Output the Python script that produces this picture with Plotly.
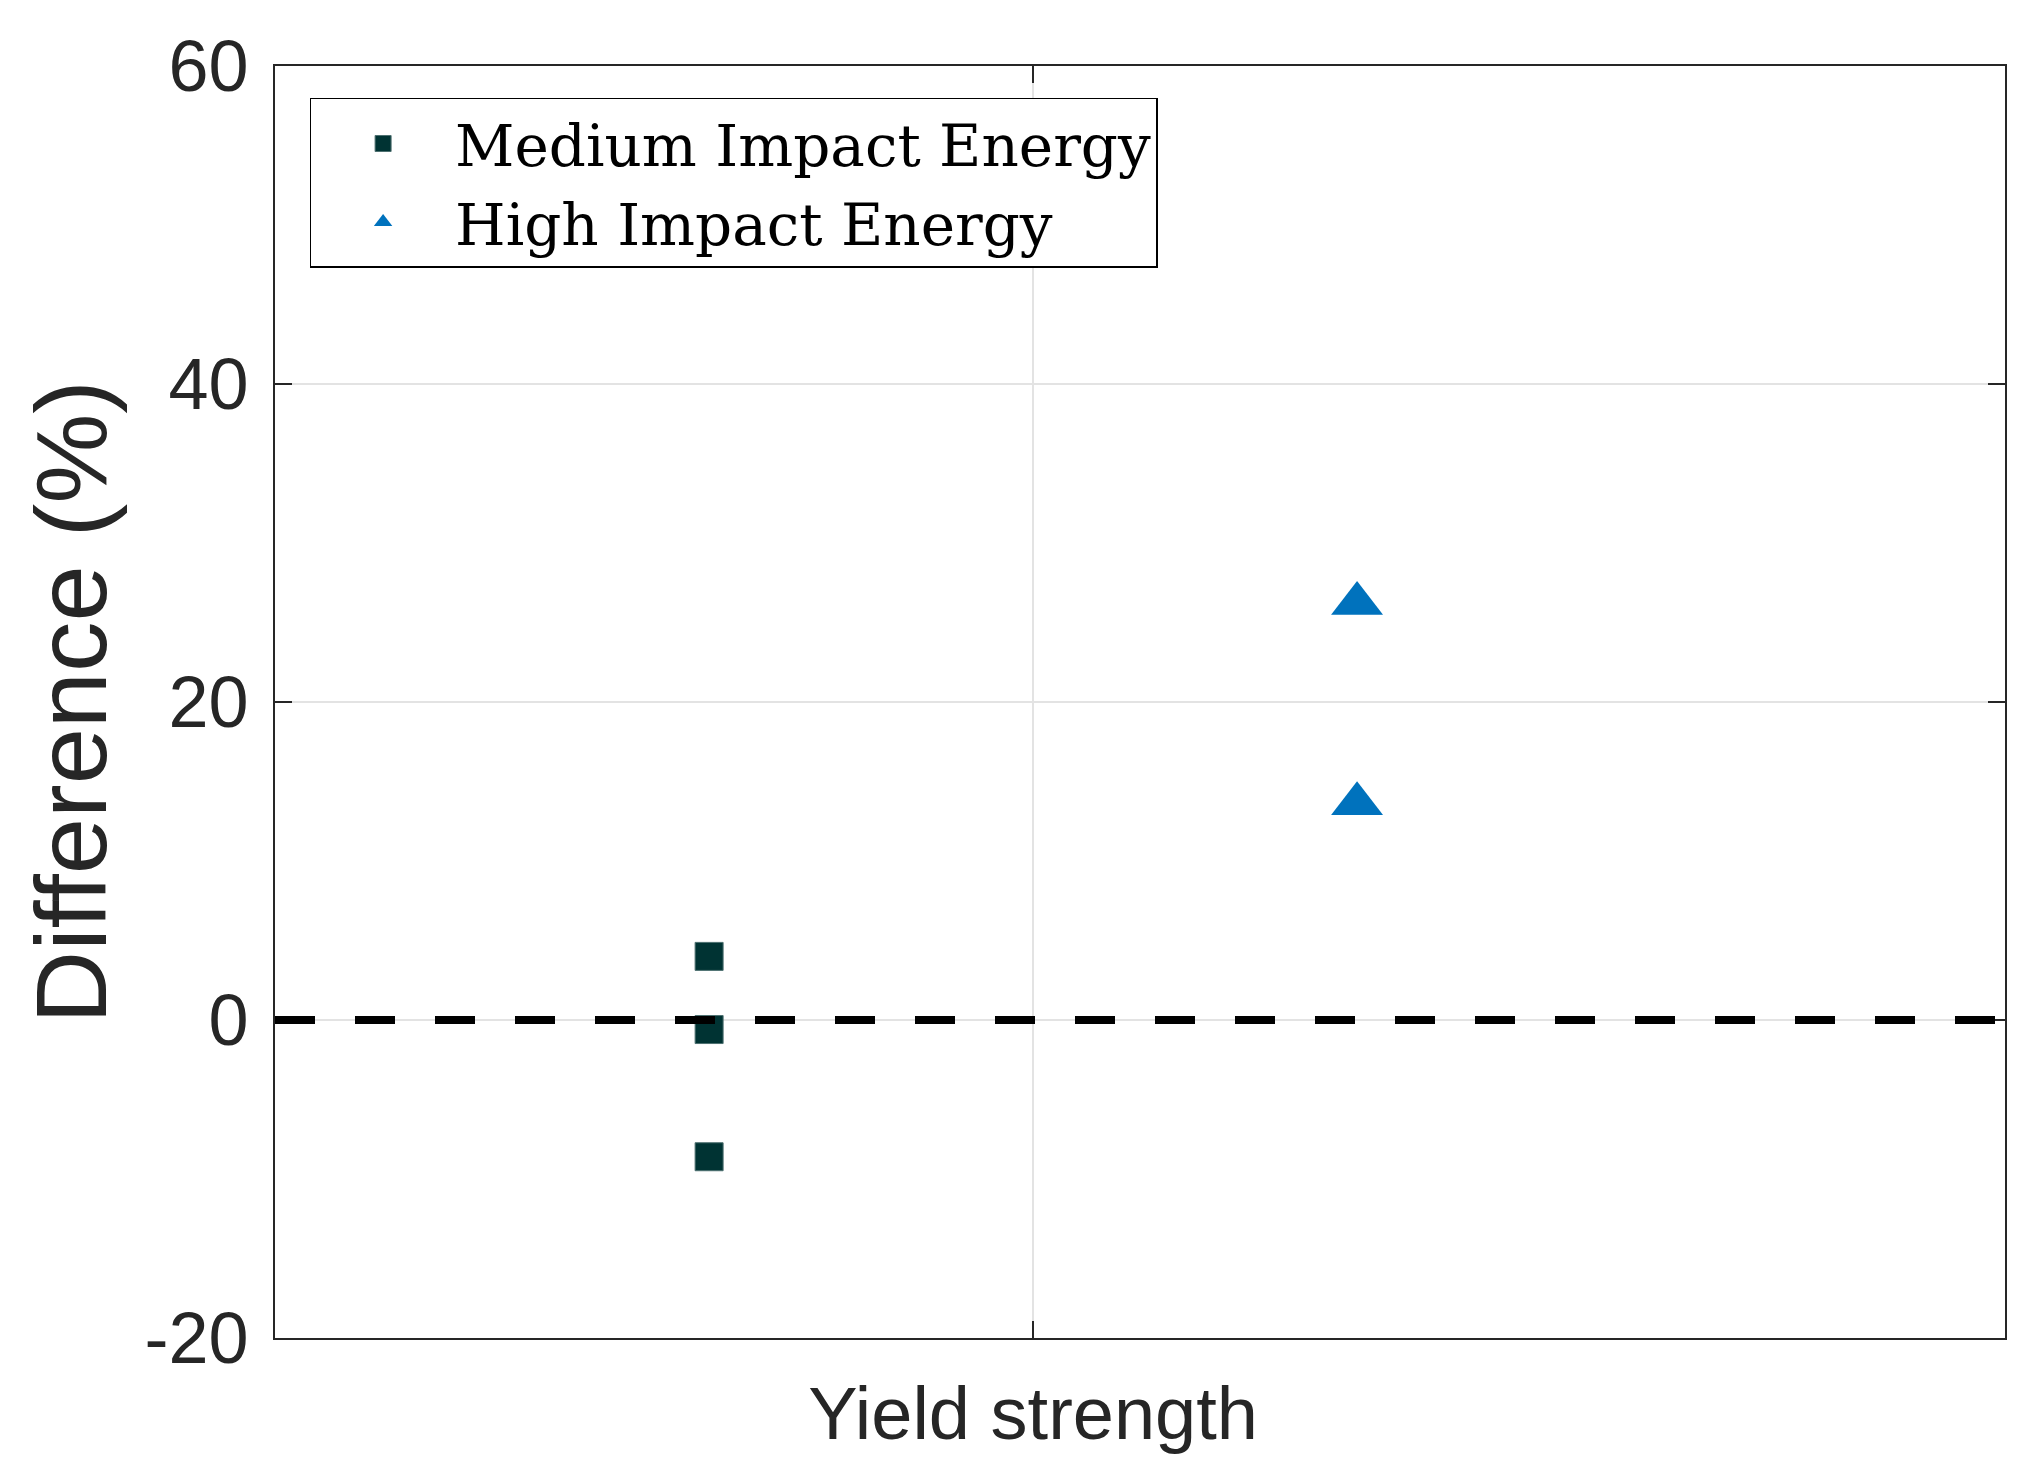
import plotly.graph_objects as go

# Data
category_labels = ["Yield strength"]
category_pos = [1.0]
medium_x = [0.8, 0.8, 0.8]
medium_y = [4.0, -0.6, -8.6]
high_x = [1.2, 1.2]
high_y = [26.2, 13.6]
y_ticks = [-20, 0, 20, 40, 60]
y_tick_text = ["-20", "0", "20", "40", "60"]

AX = "#262626"
GRID = "#e3e3e3"
SANS = "Liberation Sans, Arial, Helvetica, sans-serif"
SERIF = "DejaVu Serif, serif"

fig = go.Figure()
fig.add_trace(go.Scatter(
    x=medium_x, y=medium_y, mode="markers", name="Medium Impact Energy",
    marker=dict(symbol="square", size=28, color="#003333",
                line=dict(width=1, color="#4d7070")),
))
fig.add_trace(go.Scatter(
    x=high_x, y=high_y, mode="markers", name="High Impact Energy",
    marker=dict(symbol="triangle-up", size=45, color="#0072BD", line=dict(width=0)),
))

# dashed zero reference line
fig.add_shape(type="line", xref="paper", yref="y", x0=0, x1=1, y0=0, y1=0,
              line=dict(color="black", width=8, dash="40px,40px"), layer="above")

fig.update_layout(
    width=2026, height=1472,
    margin=dict(l=267, r=29, t=58, b=142),
    paper_bgcolor="white", plot_bgcolor="white",
    showlegend=True,
    legend=dict(
        x=0.02, y=0.975, xanchor="left", yanchor="top",
        bgcolor="white", bordercolor="black", borderwidth=1.5,
        font=dict(family=SERIF, size=58, color="black"),
        itemwidth=134, tracegroupgap=0,
    ),
)
fig.update_xaxes(
    range=[0.532, 1.6], tickmode="array", tickvals=category_pos, ticktext=category_labels,
    showgrid=True, gridcolor=GRID, gridwidth=2, zeroline=False,
    showline=True, linecolor=AX, linewidth=2, mirror="ticks",
    ticks="inside", ticklen=17, tickwidth=2, tickcolor=AX,
    tickfont=dict(family=SANS, size=74, color=AX), ticklabelstandoff=10,
)
fig.update_yaxes(
    range=[-20, 60], tickmode="array", tickvals=y_ticks, ticktext=y_tick_text,
    showgrid=True, gridcolor=GRID, gridwidth=2, zeroline=False,
    showline=True, linecolor=AX, linewidth=2, mirror="ticks",
    ticks="inside", ticklen=17, tickwidth=2, tickcolor=AX,
    tickfont=dict(family=SANS, size=72, color=AX), ticklabelstandoff=10,
    title=dict(text="Difference (%)", font=dict(family=SANS, size=101, color=AX), standoff=4),
)

fig.write_html("out.html")
